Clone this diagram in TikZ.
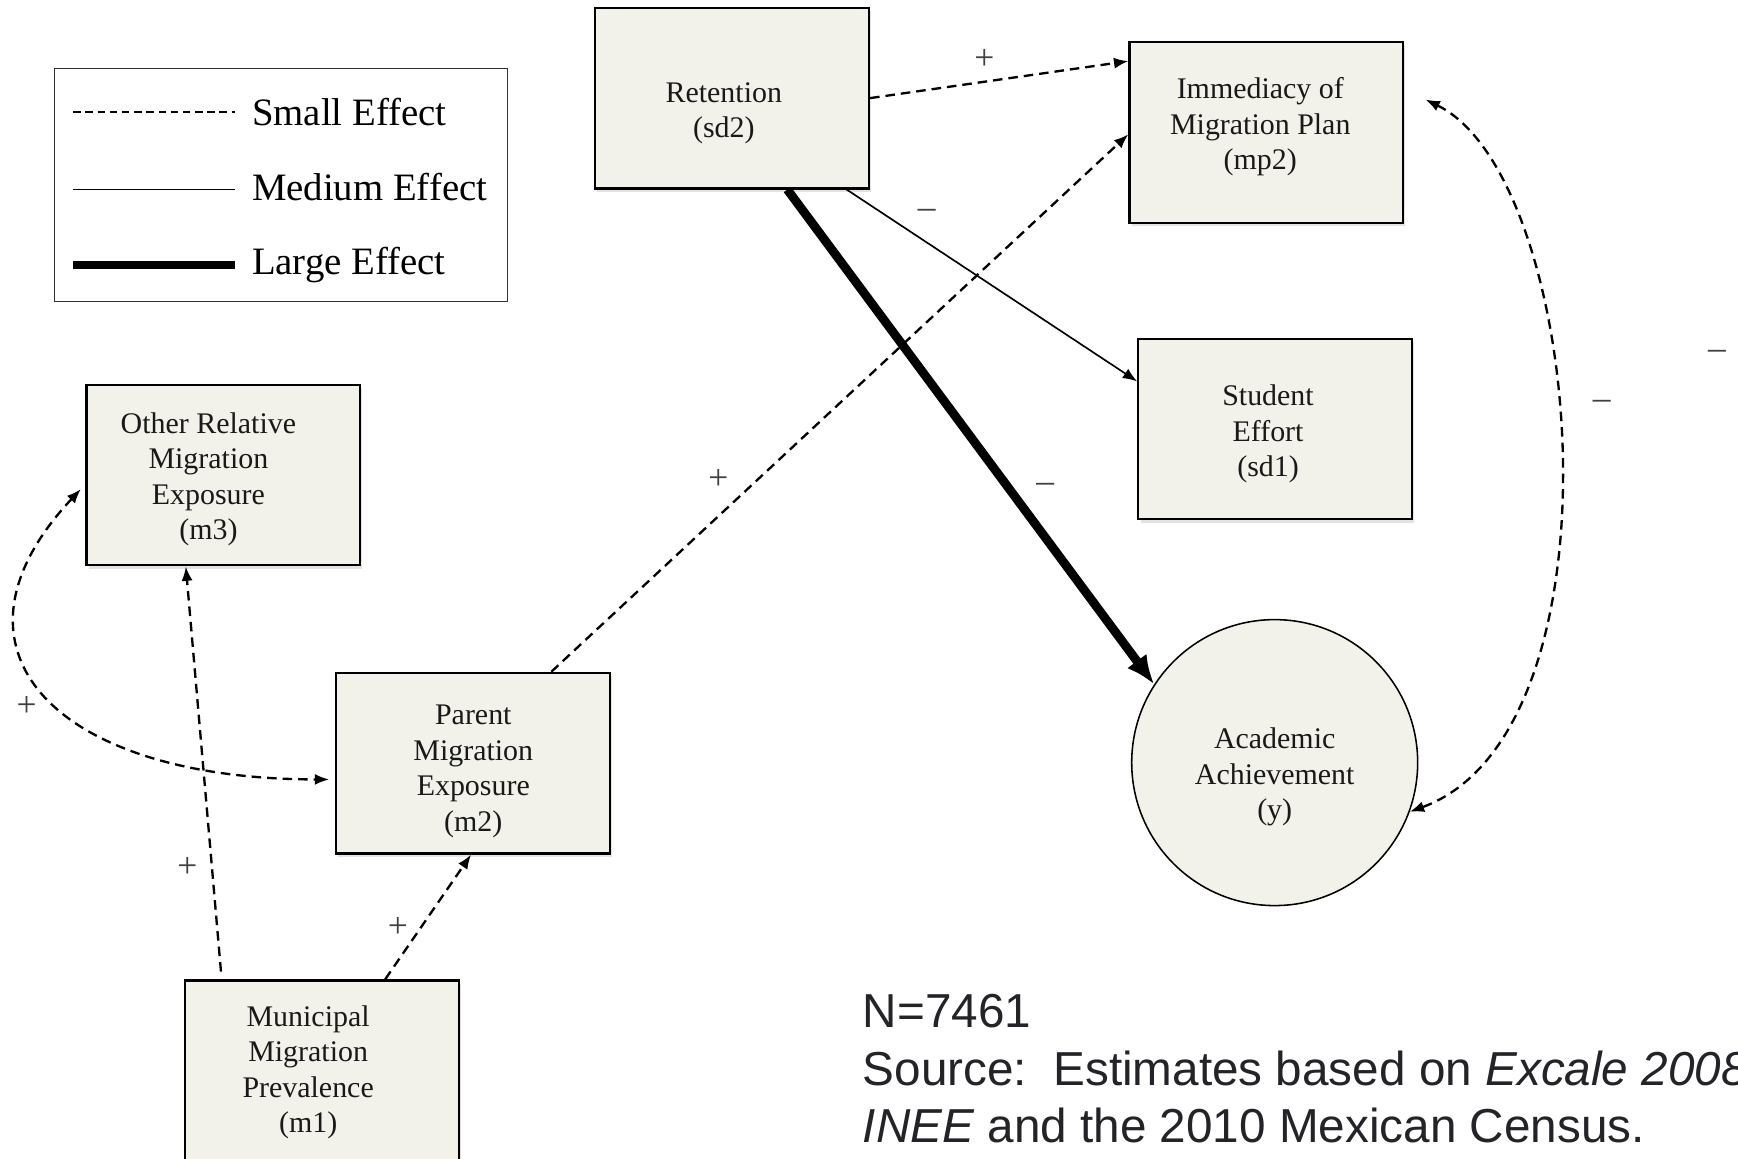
\documentclass[tikz,border=0pt]{standalone}
\usepackage{fontspec}
\setmainfont{Liberation Serif}
\newfontfamily\srcfont{Liberation Sans}
\usetikzlibrary{arrows.meta,calc,shadows}
\definecolor{boxfill}{RGB}{242,242,235}
\definecolor{notetxt}{RGB}{35,35,40}
\tikzset{
  tipS/.tip={Latex[length=6.5pt,width=5pt]},
  tipL/.tip={Latex[length=13pt,width=11pt]},
  varbox/.style={draw=black,line width=1pt,fill=boxfill,minimum width=123.5pt,minimum height=81.5pt,inner sep=0pt,
    drop shadow={shadow xshift=1pt,shadow yshift=-1.5pt,opacity=0.22}},
  varcircle/.style={circle,draw=black,line width=0.7pt,fill=boxfill,minimum size=129pt,inner sep=0pt},
  vartext/.style={align=center,font=\fontsize{13.5}{16}\selectfont,inner sep=0pt,text=black!90},
  sign/.style={font=\fontsize{16}{18}\selectfont,inner sep=0pt,text=black!75},
  effsmall/.style={line width=1.05pt,dash pattern=on 4.3pt off 2.7pt,-tipS},
  effmed/.style={line width=0.75pt,-tipS},
  efflarge/.style={line width=4pt,-tipL},
  legtext/.style={anchor=base west,font=\fontsize{17.5}{20}\selectfont,inner sep=0pt},
  notetext/.style={anchor=base west,font=\srcfont\fontsize{21.5}{26}\selectfont,inner sep=0pt,text=notetxt}
}
\begin{document}
\begin{tikzpicture}[x=0.5pt,y=-0.5pt]
\useasboundingbox (0,0) rectangle (1568,1045);
\clip (0,0) rectangle (1568,1045);
\fill[white] (0,0) rectangle (1568,1045);

% legend
\node[draw=black!80,line width=0.6pt,fill=white,minimum width=204.5pt,minimum height=105pt,inner sep=0pt] (legend) at (253.5,167) {};
\draw[line width=0.5pt,dash pattern=on 3.4pt off 2.1pt] (66,101) -- (212,101);
\draw[line width=0.7pt] (66,171) -- (212,171);
\draw[line width=3.5pt] (66,239) -- (212,239);
\node[legtext] (legS) at (227,113) {Small Effect};
\node[legtext] (legM) at (227,181) {Medium Effect};
\node[legtext] (legL) at (227,248) {Large Effect};

% variables
\node[varbox] (sd2) at (660.5,88.5) {};
\node[vartext] (sd2t) at (653,102) {Retention\\(sd2)};
\node[varbox] (mp2) at (1142.5,119.5) {};
\node[vartext] (mp2t) at (1137,114.5) {Immediacy of\\Migration Plan\\(mp2)};
\node[varbox] (sd1) at (1150.5,387) {};
\node[vartext] (sd1t) at (1144,391.5) {Student\\Effort\\(sd1)};
\node[varcircle] (y) at (1150,688) {};
\node[vartext] (yt) at (1150,701) {Academic\\Achievement\\(y)};
\node[varbox] (m3) at (201.5,428.5) {};
\node[vartext] (m3t) at (188,432.5) {Other Relative\\Migration\\Exposure\\(m3)};
\node[varbox] (m2) at (426.5,688.5) {};
\node[vartext] (m2t) at (427,696) {Parent\\Migration\\Exposure\\(m2)};
\node[varbox] (m1) at (290.5,966) {};
\node[vartext] (m1t) at (278,967.5) {Municipal\\Migration\\Prevalence\\(m1)};

% connectors
\draw[effsmall] (sd2.east) -- ($(mp2.north west)!0.11!(mp2.south west)$);
\draw[effmed] ($(sd2.south west)!0.915!(sd2.south east)$) -- ($(sd1.north west)!0.24!(sd1.south west)$);
\draw[efflarge] ($(sd2.south west)!0.70!(sd2.south east)$) -- (y.147);
\draw[effsmall] ($(m2.north west)!0.785!(m2.north east)$) -- ($(mp2.north west)!0.51!(mp2.south west)$);
\draw[effsmall,tipS-tipS] ($(mp2.north east)!0.32!(mp2.south east)+(19,0)$) .. controls (1430,160) and (1470,660) .. (y.-20);
\draw[effsmall,tipS-tipS] ($(m3.north west)!0.577!(m3.south west)+(-4,0)$) .. controls (-62,585) and (48,703) .. ($(m2.north west)!0.589!(m2.south west)+(-5,0)$);
\draw[effsmall] ($(m1.north west)!0.134!(m1.north east)+(0,-7)$) -- ($(m3.south west)!0.364!(m3.south east)$);
\draw[effsmall] ($(m1.north west)!0.729!(m1.north east)$) -- ($(m2.south west)!0.494!(m2.south east)$);

% signs
\node[sign] (s1) at (888,54) {+};
\node[sign] (s2) at (836,193) {–};
\node[sign] (s3) at (943,440) {–};
\node[sign] (s4) at (648,433) {+};
\node[sign] (s5) at (1445,365) {–};
\node[sign] (s6) at (1549,320) {–};
\node[sign] (s7) at (24,637) {+};
\node[sign] (s8) at (169,783) {+};
\node[sign] (s9) at (359,837) {+};

% note
\node[notetext] (n1) at (778,927) {N=7461};
\node[notetext] (n2) at (778,979) {Source:\ \ Estimates based on \textit{Excale 2008}};
\node[notetext] (n3) at (778,1031) {\textit{INEE} and the 2010 Mexican Census.};
\end{tikzpicture}
\end{document}
